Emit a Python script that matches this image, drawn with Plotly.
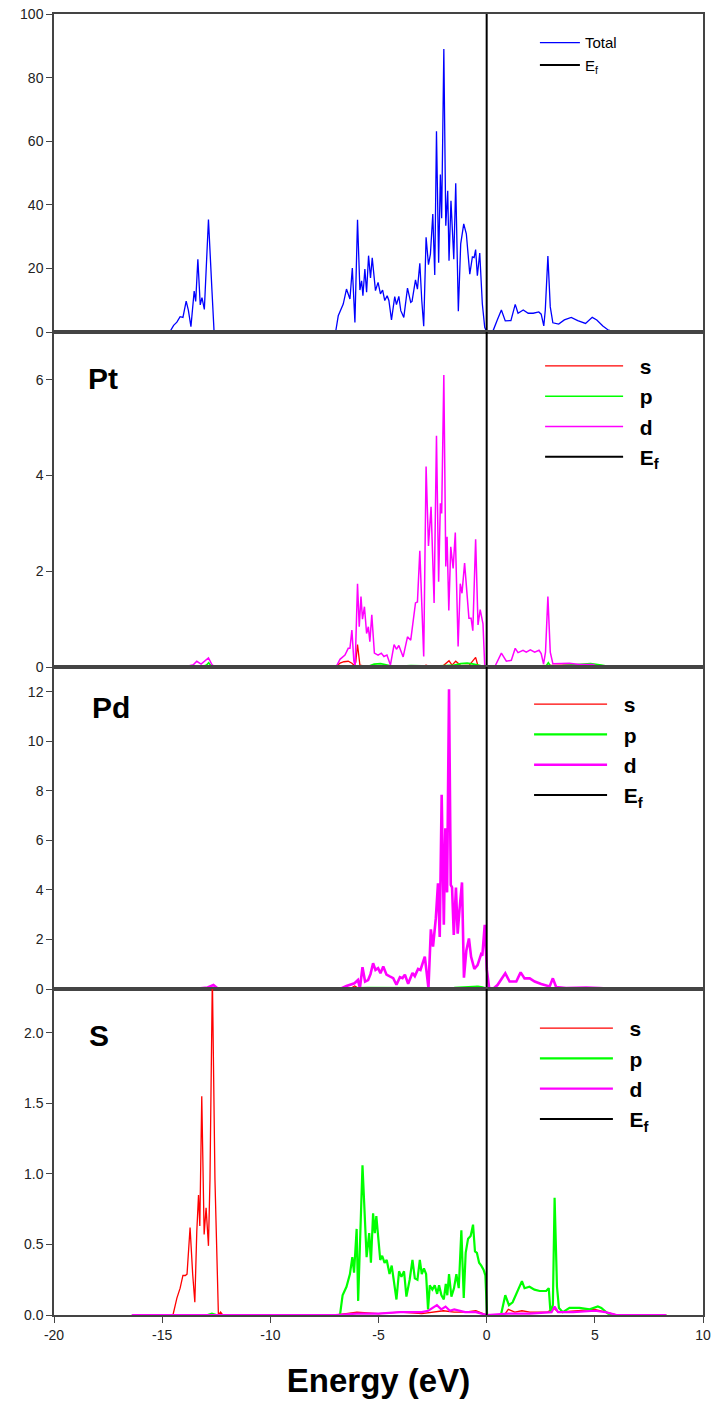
import plotly.graph_objects as go
from plotly.subplots import make_subplots

# ---------------- data (energy in eV, DOS in states/eV) ----------------
total_E = [-16.4, -14.65, -14.47, -14.32, -14.17, -14.04, -13.89, -13.79, -13.67, -13.52, -13.45, -13.35, -13.24, -13.16, -13.05, -12.86, -12.70, -12.60,
           -7.01, -6.97, -6.86, -6.63, -6.48, -6.32, -6.21, -6.09, -5.97, -5.86, -5.78, -5.72, -5.63, -5.55, -5.46, -5.37, -5.29, -5.14, -5.02, -4.91, -4.81,
           -4.71, -4.60, -4.52, -4.40, -4.25, -4.17, -4.06, -3.97, -3.83, -3.66, -3.51, -3.45, -3.29, -3.20, -3.09, -3.00, -2.91, -2.80, -2.69, -2.60, -2.49,
           -2.40, -2.32, -2.22, -2.14, -2.08, -1.98, -1.89, -1.80, -1.74, -1.65, -1.52, -1.43, -1.31, -1.20, -1.06, -0.94, -0.78, -0.66, -0.58, -0.51, -0.43,
           -0.32, -0.20, -0.09, 0.0, 0.29, 0.49, 0.68, 0.86, 1.12, 1.32, 1.45, 1.69, 1.92, 2.15, 2.41, 2.52, 2.64, 2.71, 2.83, 2.94, 3.06, 3.33, 3.59, 3.91,
           4.21, 4.57, 4.88, 5.09, 5.37, 5.60, 5.83, 8.3]
total_dos = [0, 0, 2.1, 3.1, 4.8, 4.6, 9.7, 6.9, 1.7, 12.9, 9.6, 22.9, 8.5, 10.8, 7.1, 35.4, 13.3, 0,
             0, 0.5, 5.1, 8.8, 13.5, 10.4, 20.1, 3.0, 35.3, 13.2, 16.1, 11.4, 19.8, 12.5, 24.0, 17.0, 23.3, 13.0, 15.6, 12.0, 13.2,
             9.9, 11.4, 9.9, 3.8, 11.1, 8.6, 11.2, 6.7, 4.6, 13.8, 9.3, 9.6, 16.4, 13.5, 21.6, 9.9, 1.8, 29.8, 21.2, 24.5, 37.1,
             17.9, 63.1, 21.8, 49.5, 35.8, 89.0, 33.4, 44.4, 22.4, 41.3, 22.9, 46.8, 6.5, 27.7, 34.0, 30.9, 18.2, 23.6, 23.4, 25.9, 17.7,
             24.8, 8.8, 1.5, 0.0, 0.3, 3.8, 6.9, 3.5, 3.6, 8.7, 5.9, 6.9, 5.9, 5.9, 6.3, 5.6, 1.9, 6.9, 23.9, 7.9, 2.9, 2.5, 3.8, 4.6,
             3.6, 2.7, 4.6, 3.8, 1.9, 0.7, 0.2, 0]

pt_d_E = [-16.4, -14.0, -13.55, -13.4, -13.2, -12.86, -12.7, -12.55, -7.0, -6.94, -6.78, -6.55, -6.40, -6.32, -6.23, -6.14, -6.08, -5.97, -5.89, -5.81,
          -5.74, -5.65, -5.55, -5.47, -5.40, -5.31, -5.19, -5.02, -4.87, -4.75, -4.61, -4.45, -4.28, -4.17, -4.06, -3.86, -3.66, -3.51, -3.29, -3.20,
          -3.09, -3.00, -2.91, -2.80, -2.69, -2.57, -2.43, -2.32, -2.22, -2.14, -2.08, -1.98, -1.89, -1.83, -1.75, -1.66, -1.55, -1.45, -1.32, -1.22,
          -1.14, -1.02, -0.94, -0.82, -0.72, -0.64, -0.51, -0.40, -0.30, -0.17, -0.09, 0.0, 0.37, 0.68, 0.91, 1.14, 1.32, 1.45, 1.68, 1.83,
          2.02, 2.22, 2.42, 2.52, 2.63, 2.72, 2.83, 2.94, 3.06, 3.37, 3.83, 4.29, 4.91, 5.2, 8.3]
pt_d = [0, 0, 0.05, 0.12, 0.06, 0.19, 0.05, 0, 0, 0.02, 0.16, 0.25, 0.39, 0.39, 0.77, 0.13, 0.02, 1.74, 0.84, 1.47,
        1.0, 1.26, 0.70, 0.84, 0.53, 1.09, 0.29, 0.25, 0.29, 0.22, 0.25, 0.04, 0.47, 0.37, 0.45, 0.21, 0.63, 0.56, 1.34, 1.36,
        2.43, 1.39, 0.22, 4.19, 2.53, 3.35, 1.34, 4.83, 1.78, 3.42, 3.21, 6.1, 2.1, 2.72, 1.18, 2.51, 2.06, 2.81, 0.43, 1.74,
        1.54, 2.17, 1.75, 1.02, 1.02, 0.76, 2.67, 0.88, 1.2, 0.9, 0.02, 0.0, 0.0, 0.29, 0.12, 0.14, 0.39, 0.3, 0.35, 0.31,
        0.36, 0.31, 0.35, 0.28, 0.06, 0.31, 1.47, 0.31, 0.07, 0.07, 0.08, 0.05, 0.05, 0.0, 0.0]

pt_s_E = [-16.4, -14.3, -14.17, -14.0, -7.0, -6.9, -6.78, -6.6, -6.4, -6.23, -6.14, -6.05, -5.97, -5.86, -5.5, -4.5, -3.0, -2.8, -2.6, -2.0,
          -1.74, -1.6, -1.43, -1.2, -0.8, -0.51, -0.4, 0.0, 1.0, 2.0, 3.0, 3.5, 4.5, 5.0, 5.5, 8.3]
pt_s = [0, 0, 0.02, 0, 0, 0.03, 0.08, 0.11, 0.12, 0.08, 0.04, 0.1, 0.47, 0.04, 0.01, 0.01, 0.01, 0.04, 0.01, 0.03,
        0.13, 0.04, 0.12, 0.03, 0.04, 0.2, 0.02, 0.0, 0.01, 0.02, 0.02, 0.04, 0.05, 0.03, 0.0, 0]

pt_p_E = [-16.4, -13.2, -12.95, -12.85, -12.7, -7.0, -5.5, -5.2, -4.9, -4.6, -4.3, -3.5, -2.5, -1.9, -1.5, -1.2, -0.9, -0.6, -0.3, 0.0,
          1.5, 2.5, 2.75, 2.85, 2.95, 3.5, 4.2, 4.8, 5.3, 5.8, 8.3]
pt_p = [0, 0, 0.04, 0.09, 0.0, 0, 0.01, 0.06, 0.07, 0.04, 0.01, 0.03, 0.02, 0.03, 0.04, 0.07, 0.08, 0.06, 0.03, 0.0,
        0.0, 0.01, 0.02, 0.09, 0.02, 0.03, 0.05, 0.07, 0.04, 0.0, 0]

pd_d_E = [-16.4, -14.5, -13.8, -13.24, -12.9, -12.63, -12.4, -7.0, -6.78, -6.48, -6.26, -6.11, -5.95, -5.86, -5.74, -5.62, -5.48, -5.37, -5.25, -5.14,
          -5.02, -4.91, -4.78, -4.63, -4.48, -4.32, -4.17, -4.01, -3.89, -3.78, -3.63, -3.43, -3.32, -3.17, -3.06, -2.86, -2.69, -2.58, -2.48, -2.35,
          -2.25, -2.17, -2.08, -1.98, -1.91, -1.83, -1.74, -1.66, -1.60, -1.52, -1.42, -1.34, -1.26, -1.14, -1.05, -0.94, -0.82, -0.72, -0.57, -0.42,
          -0.26, -0.20, -0.09, 0.01, 0.12, 0.29, 0.50, 0.86, 1.06, 1.37, 1.57, 1.75, 1.99, 2.22, 2.52, 2.91, 3.06, 3.21, 3.67, 4.6, 5.2, 6.0, 8.3]
pd_d = [0, 0.01, 0.03, 0.03, 0.06, 0.16, 0, 0, 0.0, 0.12, 0.2, 0.23, 0.36, 0.04, 0.88, 0.3, 0.36, 0.6, 1.04, 0.77,
        0.84, 0.64, 0.91, 0.58, 0.51, 0.44, 0.17, 0.48, 0.44, 0.58, 0.21, 0.65, 0.52, 0.81, 0.77, 1.31, 0.04, 2.41, 1.71, 2.86,
        4.27, 2.1, 7.84, 2.59, 6.49, 3.9, 12.1, 4.2, 4.1, 2.18, 4.1, 2.23, 3.16, 4.3, 0.46, 1.55, 2.04, 1.3, 0.81, 0.96,
        1.4, 1.35, 2.59, 0.77, 0.0, 0.0, 0.16, 0.63, 0.3, 0.3, 0.67, 0.43, 0.43, 0.3, 0.2, 0.1, 0.43, 0.08, 0.04, 0.06, 0.04, 0.0, 0]

pd_s_E = [-16.4, -12.8, -12.65, -12.5, -7.0, -6.3, -6.1, -5.9, -5.0, -3.0, -1.0, -0.6, -0.45, -0.3, 0.0, 1.0, 3.0, 5.0, 8.3]
pd_s = [0, 0, 0.06, 0, 0, 0.02, 0.12, 0.02, 0.01, 0.01, 0.02, 0.03, 0.1, 0.02, 0.0, 0.01, 0.02, 0.01, 0]

pd_p_E = [-16.4, -7.0, -6.5, -5.5, -4.5, -3.5, -2.5, -1.5, -0.8, -0.4, -0.2, 0.0, 0.5, 1.5, 3.0, 5.0, 8.3]
pd_p = [0, 0, 0.03, 0.05, 0.04, 0.03, 0.04, 0.05, 0.08, 0.1, 0.07, 0.02, 0.02, 0.03, 0.03, 0.02, 0]

s_s_E = [-16.4, -14.5, -14.32, -14.17, -14.04, -13.93, -13.85, -13.71, -13.59, -13.49, -13.40, -13.32, -13.26, -13.17, -13.06, -12.97, -12.86, -12.79,
         -12.68, -12.56, -12.40, -12.3, -12.2, -7.0, -6.5, -6.0, -5.0, -4.0, -3.0, -2.5, -2.0, -1.5, -1.0, -0.5, 0.0, 0.5, 0.86, 1.0, 1.3, 1.63,
         2.0, 2.8, 3.1, 3.3, 4.0, 5.0, 5.5, 6.0, 8.3]
s_s = [0, 0, 0.12, 0.19, 0.28, 0.28, 0.29, 0.62, 0.29, 0.09, 0.59, 0.85, 0.63, 1.55, 0.57, 0.76, 0.49, 0.96,
       2.4, 0.96, 0, 0.02, 0, 0, 0.01, 0.02, 0.01, 0.02, 0.01, 0.02, 0.03, 0.02, 0.02, 0.03, 0.0, 0.0, 0.01, 0.04, 0.02, 0.03,
       0.02, 0.02, 0.05, 0.02, 0.03, 0.04, 0.02, 0.0, 0]

s_p_E = [-16.4, -12.9, -12.7, -12.5, -6.78, -6.66, -6.48, -6.32, -6.21, -6.13, -6.01, -5.94, -5.74, -5.55, -5.43, -5.35, -5.25, -5.17, -5.10, -5.02,
         -4.92, -4.83, -4.72, -4.62, -4.49, -4.39, -4.30, -4.17, -4.05, -3.94, -3.82, -3.71, -3.56, -3.43, -3.32, -3.20, -3.09, -3.00, -2.90, -2.80,
         -2.71, -2.63, -2.51, -2.40, -2.29, -2.20, -2.09, -1.98, -1.89, -1.82, -1.74, -1.63, -1.51, -1.40, -1.29, -1.17, -1.06, -0.97, -0.86, -0.74,
         -0.63, -0.54, -0.45, -0.35, -0.25, -0.14, -0.06, 0.02, 0.2, 0.66, 0.86, 1.03, 1.2, 1.4, 1.63, 1.75, 1.98, 2.21, 2.45, 2.75,
         2.87, 2.95, 3.06, 3.14, 3.25, 3.34, 3.52, 3.83, 4.29, 4.76, 5.14, 5.3, 5.6, 5.83, 8.3]
s_p = [0, 0, 0.01, 0, 0, 0.14, 0.2, 0.29, 0.41, 0.3, 0.61, 0.1, 1.06, 0.41, 0.58, 0.37, 0.72, 0.58, 0.7, 0.53,
       0.39, 0.42, 0.37, 0.39, 0.29, 0.35, 0.25, 0.11, 0.31, 0.27, 0.31, 0.13, 0.25, 0.39, 0.26, 0.25, 0.39, 0.29, 0.33, 0.29,
       0.04, 0.21, 0.18, 0.21, 0.15, 0.21, 0.14, 0.11, 0.22, 0.14, 0.29, 0.13, 0.19, 0.29, 0.19, 0.6, 0.12, 0.44, 0.54, 0.56,
       0.64, 0.45, 0.44, 0.37, 0.35, 0.32, 0.28, 0.0, 0.0, 0.0, 0.14, 0.07, 0.09, 0.16, 0.24, 0.19, 0.2, 0.18, 0.17, 0.17,
       0.19, 0.02, 0.07, 0.83, 0.2, 0.05, 0.02, 0.05, 0.05, 0.04, 0.06, 0.05, 0.01, 0.0, 0]

s_d_E = [-16.4, -7.0, -6.0, -5.0, -4.0, -3.0, -2.7, -2.5, -2.3, -2.1, -1.9, -1.7, -1.5, -1.0, -0.5, 0.0, 1.0, 2.0, 3.0, 3.14,
         3.3, 4.0, 5.0, 5.5, 6.0, 8.3]
s_d = [0, 0, 0.01, 0.01, 0.02, 0.02, 0.03, 0.05, 0.07, 0.04, 0.06, 0.03, 0.04, 0.02, 0.02, 0.0, 0.01, 0.01, 0.02, 0.06,
       0.02, 0.02, 0.03, 0.02, 0.0, 0]

fermi_E = [0, 0]
panel_names = ["Pt", "Pd", "S"]
y_ranges = [[0, 100], [0, 7], [0, 13], [0, 2.31]]
x_ticks = [-20, -15, -10, -5, 0, 5, 10]
x_ticktext = ["-20", "-15", "-10", "-5", "0", "5", "10"]

pairs = [(total_E, total_dos), (pt_d_E, pt_d), (pt_s_E, pt_s), (pt_p_E, pt_p), (pd_d_E, pd_d), (pd_s_E, pd_s),
         (pd_p_E, pd_p), (s_s_E, s_s), (s_p_E, s_p), (s_d_E, s_d)]
for a, b in pairs:
    assert len(a) == len(b), (len(a), len(b))

# ---------------- figure ----------------
FONT = "Liberation Sans, Arial, sans-serif"
RED, GREEN, MAG, BLUE = "#ff0000", "#00ff00", "#ff00ff", "#0000ff"
SP = "\u00a0\u00a0"

fig = make_subplots(rows=4, cols=1, shared_xaxes=True, vertical_spacing=0)

# top: total
fig.add_trace(go.Scatter(x=total_E, y=total_dos, mode="lines", name="Total",
                         line=dict(color=BLUE, width=1.3), legend="legend"), row=1, col=1)
fig.add_trace(go.Scatter(x=fermi_E, y=y_ranges[0], mode="lines", name="E<sub>f</sub>",
                         line=dict(color="black", width=2), legend="legend"), row=1, col=1)

# Pt
fig.add_trace(go.Scatter(x=pt_s_E, y=pt_s, mode="lines", name=SP + "s", line=dict(color=RED, width=1.3), legend="legend2"), row=2, col=1)
fig.add_trace(go.Scatter(x=pt_p_E, y=pt_p, mode="lines", name=SP + "p", line=dict(color=GREEN, width=1.6), legend="legend2"), row=2, col=1)
fig.add_trace(go.Scatter(x=pt_d_E, y=pt_d, mode="lines", name=SP + "d", line=dict(color=MAG, width=1.5), legend="legend2"), row=2, col=1)
fig.add_trace(go.Scatter(x=fermi_E, y=y_ranges[1], mode="lines", name=SP + "E<sub>f</sub>",
                         line=dict(color="black", width=2), legend="legend2"), row=2, col=1)

# Pd
fig.add_trace(go.Scatter(x=pd_s_E, y=pd_s, mode="lines", name=SP + "s", line=dict(color=RED, width=1.2), legend="legend3"), row=3, col=1)
fig.add_trace(go.Scatter(x=pd_p_E, y=pd_p, mode="lines", name=SP + "p", line=dict(color=GREEN, width=2.2), legend="legend3"), row=3, col=1)
fig.add_trace(go.Scatter(x=pd_d_E, y=pd_d, mode="lines", name=SP + "d", line=dict(color=MAG, width=2.6), legend="legend3"), row=3, col=1)
fig.add_trace(go.Scatter(x=fermi_E, y=y_ranges[2], mode="lines", name=SP + "E<sub>f</sub>",
                         line=dict(color="black", width=2), legend="legend3"), row=3, col=1)

# S
fig.add_trace(go.Scatter(x=s_s_E, y=s_s, mode="lines", name=SP + "s", line=dict(color=RED, width=1.3), legend="legend4"), row=4, col=1)
fig.add_trace(go.Scatter(x=s_p_E, y=s_p, mode="lines", name=SP + "p", line=dict(color=GREEN, width=2.2), legend="legend4"), row=4, col=1)
fig.add_trace(go.Scatter(x=s_d_E, y=s_d, mode="lines", name=SP + "d", line=dict(color=MAG, width=2.2), legend="legend4"), row=4, col=1)
fig.add_trace(go.Scatter(x=fermi_E, y=y_ranges[3], mode="lines", name=SP + "E<sub>f</sub>",
                         line=dict(color="black", width=2), legend="legend4"), row=4, col=1)

# domains (bottom -> top), plot area height 1301 px
H = 1301.0
doms = [[(648 + 335) / H, 1.0], [648 / H, (648 + 335) / H], [326 / H, 648 / H], [0.0, 326 / H]]

axis_common = dict(showline=True, mirror=True, linecolor="#444", linewidth=1.5, showgrid=False, zeroline=False)
for i in range(4):
    r = i + 1
    fig.update_xaxes(range=[-20, 10], tickvals=x_ticks, ticktext=x_ticktext, **axis_common, row=r, col=1)
    fig.update_yaxes(range=y_ranges[i], domain=doms[i], ticks="outside", ticklen=6, tickwidth=1.2,
                     tickcolor="#444", tickfont=dict(family=FONT, size=14, color="#222"), **axis_common, row=r, col=1)
    if r < 4:
        fig.update_xaxes(ticks="", showticklabels=False, row=r, col=1)

fig.update_yaxes(tickvals=[0, 20, 40, 60, 80, 100], row=1, col=1)
fig.update_yaxes(tickvals=[0, 2, 4, 6], row=2, col=1)
fig.update_yaxes(tickvals=[0, 2, 4, 6, 8, 10, 12], row=3, col=1)
fig.update_yaxes(tickvals=[0, 0.5, 1.0, 1.5, 2.0], ticktext=["0.0", "0.5", "1.0", "1.5", "2.0"], row=4, col=1)
fig.update_xaxes(ticks="outside", ticklen=6, tickwidth=1.2, tickcolor="#444", showticklabels=True,
                 tickfont=dict(family=FONT, size=14, color="#222"),
                 title=dict(text="Energy (eV)", font=dict(family=FONT, size=33, color="black", weight="bold"), standoff=27),
                 row=4, col=1)

# panel labels
label_pos = [(-17.75, 6.02, "x2", "y2"), (-17.35, 11.35, "x3", "y3"), (-17.9, 1.98, "x4", "y4")]
for name, (ex, ey, xr, yr) in zip(panel_names, label_pos):
    fig.add_annotation(x=ex, y=ey, xref=xr, yref=yr, text=name, showarrow=False,
                       font=dict(family=FONT, size=30, color="black", weight="bold"))

leg_big = dict(font=dict(family=FONT, size=21, color="black", weight="bold"), bgcolor="rgba(0,0,0,0)",
               xanchor="left", yanchor="top", tracegroupgap=0)
fig.update_layout(
    width=717, height=1401,
    margin=dict(l=54, r=14, t=14, b=86, autoexpand=False),
    paper_bgcolor="white", plot_bgcolor="white",
    font=dict(family=FONT),
    legend=dict(x=0.741, y=0.9905, xanchor="left", yanchor="top", bgcolor="rgba(0,0,0,0)", itemwidth=40,
                font=dict(family=FONT, size=15, color="black")),
    legend2=dict(x=0.749, y=0.745, itemwidth=78, **leg_big),
    legend3=dict(x=0.732, y=0.4850, itemwidth=73, **leg_big),
    legend4=dict(x=0.741, y=0.2360, itemwidth=73, **leg_big),
)

fig.write_html("out.html")
